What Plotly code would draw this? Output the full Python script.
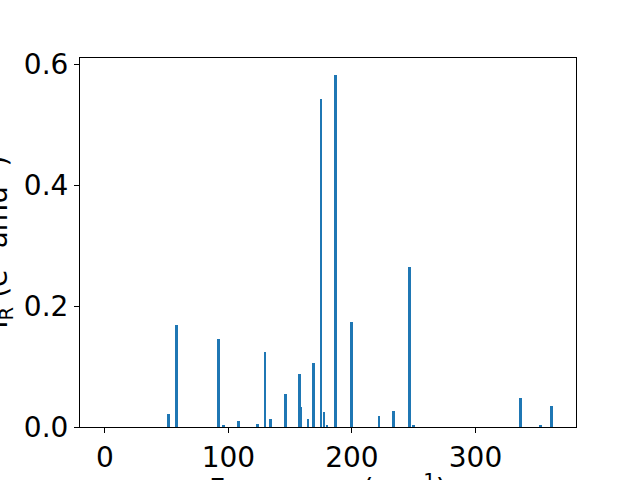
import plotly.graph_objects as go

freqs = [51.3, 57.8, 91.8, 95.8, 108.0, 123.6, 129.5, 133.9, 146.0, 157.6, 158.7,
         164.6, 168.7, 174.8, 177.3, 180.0, 186.5, 199.7, 222.1, 233.7, 246.4,
         250.0, 336.3, 352.8, 361.4]
intensities = [0.022, 0.169, 0.146, 0.004, 0.010, 0.005, 0.124, 0.013, 0.055, 0.088, 0.033,
               0.013, 0.106, 0.542, 0.025, 0.002, 0.582, 0.1735, 0.018, 0.026, 0.265,
               0.004, 0.048, 0.002, 0.035]
x_ticks = [0, 100, 200, 300]
y_ticks = [0.0, 0.2, 0.4, 0.6]

fig = go.Figure(go.Bar(x=freqs, y=intensities, width=2.0,
                       marker=dict(color="#1f77b4", line=dict(width=0))))

font = dict(family="DejaVu Sans", size=28, color="black")
axis_common = dict(showgrid=False, zeroline=False, showline=True, linecolor="black",
                   linewidth=1, mirror=True, ticks="outside", ticklen=5, tickwidth=1,
                   tickcolor="black", tickfont=font, automargin=False)
fig.update_layout(
    width=640, height=480,
    margin=dict(l=80, r=64, t=58, b=53),
    plot_bgcolor="white", paper_bgcolor="white",
    showlegend=False, bargap=0,
    xaxis=dict(range=[-20.2, 381.4], tickvals=x_ticks, ticktext=[str(v) for v in x_ticks], **axis_common),
    yaxis=dict(range=[0, 0.61], tickvals=y_ticks, ticktext=["%.1f" % v for v in y_ticks], **axis_common),
    font=font,
)
fig.add_annotation(text="Frequency (cm<sup>-1</sup>)", xref="paper", yref="paper",
                   x=0.5, y=-0.108, xanchor="center", yanchor="top", showarrow=False, font=font)
fig.add_annotation(text="I<sub>R</sub> (e<sup>2</sup> amu<sup>-1</sup>)", xref="paper", yref="paper",
                   x=-0.165, y=0.5, xanchor="center", yanchor="middle", textangle=-90,
                   showarrow=False, font=font)
fig.write_html("out.html", config={"displayModeBar": False},
               post_script="document.body.style.margin='0';document.body.style.overflow='hidden';")
